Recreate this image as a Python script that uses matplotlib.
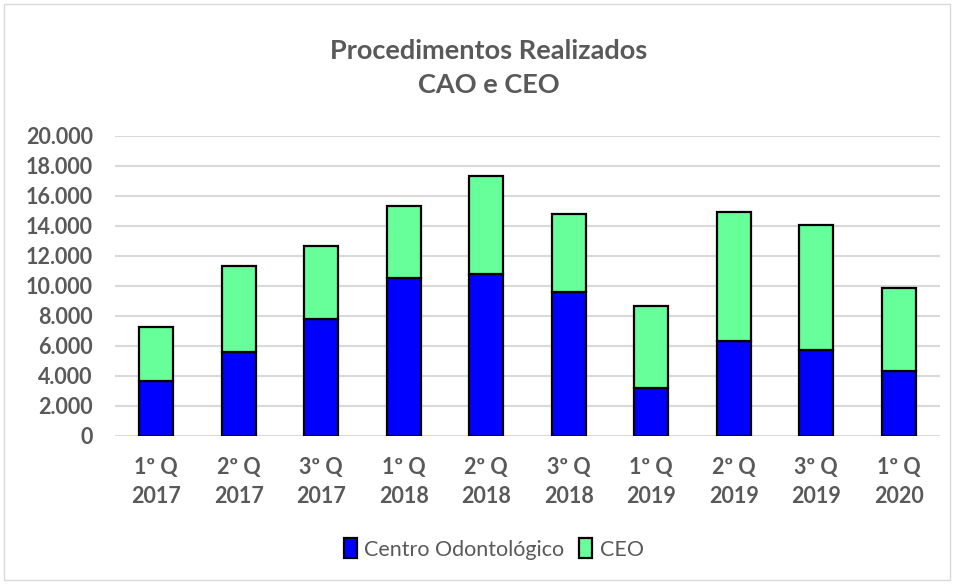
import matplotlib.pyplot as plt
from matplotlib.patches import Rectangle
from matplotlib.ticker import FuncFormatter

plt.rcParams['font.family'] = ['Lato', 'DejaVu Sans']

# Quarter labels and values
quarters = ['1º Q\n2017', '2º Q\n2017', '3º Q\n2017',
            '1º Q\n2018', '2º Q\n2018', '3º Q\n2018',
            '1º Q\n2019', '2º Q\n2019', '3º Q\n2019',
            '1º Q\n2020']
centro = [3700, 5600, 7820, 10560, 10820, 9620, 3220, 6310, 5710, 4310]
ceo = [3600, 5730, 4870, 4770, 6490, 5200, 5470, 8600, 8360, 5580]

text_grey = '#595959'

fig = plt.figure(figsize=(9.55, 5.84), dpi=100)
ax = fig.add_axes([115/955, 1 - 436/584, 825/955, 300/584])

x = range(len(quarters))
ax.bar(x, centro, width=0.41, color='#0000FF', edgecolor='black',
       linewidth=1.6, label='Centro Odontológico', zorder=3)
ax.bar(x, ceo, width=0.41, bottom=centro, color='#66FF99', edgecolor='black',
       linewidth=1.6, label='CEO', zorder=3)

ax.set_xlim(-0.5, len(quarters) - 0.5)
ax.set_ylim(0, 20000)
ax.set_yticks(range(0, 20001, 2000))
ax.yaxis.set_major_formatter(FuncFormatter(lambda v, p: f'{int(v):,}'.replace(',', '.')))
ax.set_xticks(list(x))
ax.set_xticklabels(quarters)
ax.grid(axis='y', color='#D9D9D9', linewidth=1.5, zorder=0)
ax.tick_params(length=0, labelsize=15.5, labelcolor=text_grey)
ax.tick_params(axis='y', pad=16)
ax.tick_params(axis='x', pad=15)
for lbl in ax.get_xticklabels() + ax.get_yticklabels():
    lbl.set_fontweight('bold')
    lbl.set_linespacing(1.48)
for s in ax.spines.values():
    s.set_visible(False)

fig.text(0.512, 1 - 68/584, 'Procedimentos Realizados\nCAO e CEO', ha='center',
         va='center', fontsize=19.5, fontweight='bold', color=text_grey,
         linespacing=1.53)

fig.legend(loc='center', bbox_to_anchor=(0.517, 1 - 549/584), ncol=2, frameon=False,
           fontsize=15.5, labelcolor=text_grey, handlelength=0.6, handleheight=1.0,
           handletextpad=0.35, columnspacing=0.7)

fig.patches.append(Rectangle((4/955, 4/584), 946/955, 576/584, transform=fig.transFigure,
                             fill=False, edgecolor='#D9D9D9', linewidth=1))

fig.savefig('out.png', dpi=100)
